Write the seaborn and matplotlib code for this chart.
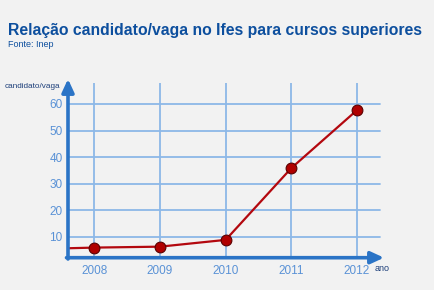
import matplotlib
matplotlib.use("Agg")
import matplotlib.pyplot as plt
import seaborn as sns
import pandas as pd

years = [2008, 2009, 2010, 2011, 2012]
ratio = [6.0, 6.35, 8.9, 35.9, 57.7]
start_year = [2007.6]
start_ratio = [5.75]
yticks = [10, 20, 30, 40, 50, 60]

title = "Relação candidato/vaga no Ifes para cursos superiores"
source = "Fonte: Inep"
ylabel = "candidato/vaga"
xlabel = "ano"

sns.set_theme(style="white")
FONT = ["Liberation Sans", "DejaVu Sans"]
plt.rcParams["font.family"] = FONT

BG = "#f2f2f2"
AXC = "#2b74c6"
GRID = "#8db8e8"
TICKC = "#5a92d6"
TITLEC = "#0d4f9e"
LINEC = "#b3080f"

fig = plt.figure(figsize=(4.35, 2.9), dpi=100, facecolor=BG)
W, H = 435, 290
x0, x1 = 68, 386.6
yb, yt = 257.7, 82.7
ax = fig.add_axes([x0 / W, 1 - yb / H, (x1 - x0) / W, (yb - yt) / H])
ax.set_facecolor(BG)
ax.set_xlim(2007.6, 2012.45)
ax.set_ylim(2.2, 68)

for s in ax.spines.values():
    s.set_visible(False)

# grid
for yv in yticks:
    ax.plot([2007.6, 2012.35], [yv, yv], color=GRID, lw=1.3, zorder=1)
for xv in years:
    ax.plot([xv, xv], [2.2, 68], color=GRID, lw=1.3, zorder=1)

df = pd.DataFrame({"ano": start_year + years, "ratio": start_ratio + ratio})
sns.lineplot(data=df, x="ano", y="ratio", ax=ax, color=LINEC, lw=1.6, zorder=3)
sns.scatterplot(x=years, y=ratio, ax=ax, color="#b00000", edgecolor="#5a0000",
                s=60, linewidth=0.8, zorder=4)

# axes arrows
ax.annotate("", xy=(384 / W, 1 - yb / H), xytext=(x0 / W - 1.5 / W, 1 - yb / H),
            xycoords="figure fraction",
            arrowprops=dict(arrowstyle="-|>,head_length=0.65,head_width=0.3",
                            color=AXC, lw=2.6, shrinkA=0, shrinkB=0))
ax.annotate("", xy=(x0 / W, 1 - 79 / H), xytext=(x0 / W, 1 - (yb + 1.3) / H),
            xycoords="figure fraction",
            arrowprops=dict(arrowstyle="-|>,head_length=0.65,head_width=0.3",
                            color=AXC, lw=2.6, shrinkA=0, shrinkB=0))

ax.set_xticks(years)
ax.set_xticklabels([str(y) for y in years])
ax.set_yticks(yticks)
ax.set_yticklabels([str(v) for v in yticks])
ax.tick_params(axis="both", length=0, colors=TICKC, labelsize=8.5)
ax.tick_params(axis="x", pad=5)
ax.tick_params(axis="y", pad=4)
ax.set_xlabel("")
ax.set_ylabel("")

fig.canvas.draw()
r = fig.canvas.get_renderer()


def fit_text(x, y, s, width, size, **kw):
    t = fig.text(x / W, 1 - y / H, s, fontsize=size, ha="left", va="baseline", **kw)
    w = t.get_window_extent(renderer=r).width
    t.set_fontsize(size * width / w)
    return t


fit_text(8, 35, title, 416, 15, color=TITLEC, fontweight="bold")
fig.text(8 / W, 1 - 47 / H, source, fontsize=6.5, color=TITLEC, ha="left", va="baseline")
fit_text(5, 88, ylabel, 55, 7, color="#1d3f7a")
fig.text(375 / W, 1 - 271 / H, xlabel, fontsize=6.5, color="#1d3f7a", ha="left", va="baseline")

fig.savefig("out.png", dpi=100, facecolor=BG)
